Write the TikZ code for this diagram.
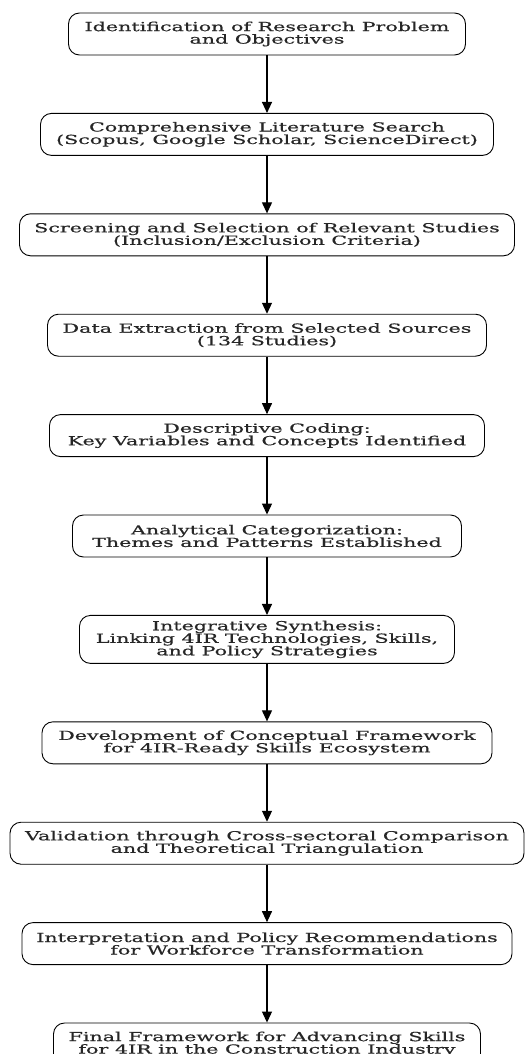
\documentclass[tikz,border=0pt]{standalone}
\usepackage{fontspec}
\newfontfamily\boxfont[FakeStretch=1.65,FakeBold=0.6]{DejaVu Serif}
\usepackage{tikz}
\usetikzlibrary{arrows.meta, positioning}

\begin{document}
\begin{tikzpicture}[x=1pt,y=1pt,node distance=57.5pt,
  box/.style={draw,line width=0.9pt,rounded corners=11pt,align=center,
    inner sep=0pt,minimum height=42pt,text=black!85,
    font=\boxfont\fontsize{12.5pt}{12.5pt}\selectfont},
  flow/.style={line width=1.1pt,-{Triangle[length=11pt,width=10pt]}}]
\useasboundingbox (0,0) rectangle (528,-1054);
\node[box,minimum width=397pt] (boxA) at (267,-34) {Identification of Research Problem\\and Objectives};
\node[box,minimum width=453pt,below=of boxA] (boxB) {Comprehensive Literature Search\\(Scopus, Google Scholar, ScienceDirect)};
\node[box,minimum width=495pt,below=of boxB] (boxC) {Screening and Selection of Relevant Studies\\(Inclusion/Exclusion Criteria)};
\node[box,minimum width=439pt,below=of boxC] (boxD) {Data Extraction from Selected Sources\\(134 Studies)};
\node[box,minimum width=435pt,below=of boxD] (boxE) {Descriptive Coding:\\Key Variables and Concepts Identified};
\node[box,minimum width=389pt,below=of boxE] (boxF) {Analytical Categorization:\\Themes and Patterns Established};
\node[box,minimum width=375pt,minimum height=48pt,below=of boxF] (boxG) {Integrative Synthesis:\\Linking 4IR Technologies, Skills,\\and Policy Strategies};
\node[box,minimum width=450pt,below=of boxG] (boxH) {Development of Conceptual Framework\\for 4IR-Ready Skills Ecosystem};
\node[box,minimum width=514pt,below=of boxH] (boxI) {Validation through Cross-sectoral Comparison\\and Theoretical Triangulation};
\node[box,minimum width=490pt,below=of boxI] (boxJ) {Interpretation and Policy Recommendations\\for Workforce Transformation};
\node[box,minimum width=427pt,below=of boxJ] (boxK) {Final Framework for Advancing Skills\\for 4IR in the Construction Industry};
% arrows
\draw[flow] (boxA) -- (boxB);
\draw[flow] (boxB) -- (boxC);
\draw[flow] (boxC) -- (boxD);
\draw[flow] (boxD) -- (boxE);
\draw[flow] (boxE) -- (boxF);
\draw[flow] (boxF) -- (boxG);
\draw[flow] (boxG) -- (boxH);
\draw[flow] (boxH) -- (boxI);
\draw[flow] (boxI) -- (boxJ);
\draw[flow] (boxJ) -- (boxK);
\end{tikzpicture}
\end{document}
